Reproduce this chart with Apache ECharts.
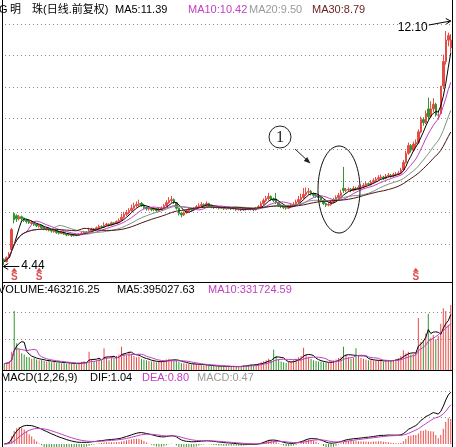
<!DOCTYPE html>
<html><head><meta charset="utf-8">
<script src="https://cdn.jsdelivr.net/npm/echarts@6/dist/echarts.min.js"></script>
<style>html,body{margin:0;padding:0;background:#fff}#c{width:456px;height:447px}</style>
</head><body><div id="c"></div>
<script>
// ---- data (daily bars, forward-adjusted) ----
const opens = [
4.62,4.55,4.68,4.95,6.12,6.05,5.95,6.02,5.98,5.92,
5.88,5.80,5.84,5.78,5.70,5.74,5.68,5.60,5.64,5.60,
5.53,5.56,5.52,5.47,5.52,5.46,5.42,5.44,5.40,5.43,
5.41,5.45,5.48,5.52,5.50,5.56,5.62,5.60,5.66,5.70,
5.68,5.74,5.78,5.75,5.82,5.80,5.86,5.90,6.00,6.10,
6.15,6.22,6.30,6.38,6.42,6.46,6.40,6.33,6.27,6.30,
6.25,6.28,6.22,6.26,6.30,6.38,6.48,6.55,6.58,6.48,
6.30,6.14,6.08,6.15,6.22,6.28,6.25,6.30,6.35,6.38,
6.42,6.40,6.45,6.38,6.35,6.32,6.35,6.30,6.33,6.28,
6.30,6.32,6.28,6.30,6.25,6.27,6.24,6.28,6.26,6.30,
6.27,6.25,6.30,6.35,6.45,6.55,6.62,6.68,6.60,6.60,
6.48,6.40,6.35,6.32,6.30,6.35,6.38,6.42,6.50,6.58,
6.65,6.75,6.82,6.85,6.78,6.72,6.70,6.65,6.55,6.45,
6.40,6.42,6.50,6.58,6.65,6.72,6.95,6.88,6.90,6.92,
6.88,6.95,6.93,6.98,7.00,7.05,7.10,7.08,7.15,7.20,
7.25,7.30,7.32,7.28,7.35,7.38,7.36,7.40,7.42,7.45,
7.55,7.80,8.10,8.35,8.20,8.40,8.45,8.80,9.20,9.10,
9.55,9.30,9.55,9.70,9.35,9.40,10.30,11.10,11.80,11.55];
const closes = [
4.55,4.68,4.80,5.60,5.92,5.95,6.02,5.96,5.90,5.86,
5.82,5.84,5.76,5.72,5.74,5.66,5.62,5.64,5.58,5.55,
5.56,5.50,5.48,5.52,5.45,5.42,5.44,5.40,5.43,5.41,
5.45,5.48,5.52,5.50,5.56,5.62,5.60,5.66,5.70,5.68,
5.74,5.78,5.75,5.82,5.80,5.86,5.90,6.00,6.10,6.15,
6.22,6.30,6.38,6.42,6.45,6.40,6.32,6.28,6.30,6.25,
6.28,6.22,6.26,6.30,6.38,6.48,6.55,6.58,6.50,6.30,
6.12,6.08,6.15,6.22,6.28,6.25,6.30,6.35,6.38,6.42,
6.40,6.45,6.38,6.35,6.32,6.35,6.30,6.33,6.28,6.30,
6.32,6.28,6.30,6.25,6.27,6.24,6.28,6.26,6.30,6.27,
6.25,6.30,6.35,6.45,6.55,6.62,6.68,6.60,6.55,6.48,
6.40,6.35,6.32,6.30,6.35,6.38,6.42,6.50,6.58,6.65,
6.75,6.82,6.85,6.78,6.72,6.70,6.65,6.55,6.45,6.40,
6.42,6.50,6.58,6.65,6.72,6.80,6.88,6.90,6.92,6.88,
6.95,6.93,6.98,7.00,7.05,7.10,7.08,7.15,7.20,7.25,
7.30,7.32,7.28,7.35,7.38,7.36,7.40,7.42,7.45,7.55,
7.80,8.10,8.35,8.20,8.40,8.45,8.80,9.20,9.10,9.40,
9.30,9.55,9.70,9.35,9.35,10.30,11.10,11.80,11.95,11.80];
const lows = [
4.44,4.52,4.64,4.92,5.80,5.85,5.90,5.90,5.85,5.80,
5.78,5.76,5.72,5.68,5.66,5.62,5.58,5.56,5.54,5.50,
5.50,5.46,5.44,5.45,5.42,5.38,5.39,5.36,5.37,5.38,
5.39,5.42,5.46,5.47,5.48,5.54,5.56,5.58,5.62,5.64,
5.66,5.70,5.71,5.73,5.76,5.78,5.82,5.88,5.96,6.04,
6.10,6.18,6.26,6.32,6.36,6.34,6.28,6.22,6.22,6.20,
6.20,6.17,6.18,6.22,6.26,6.34,6.44,6.48,6.44,6.25,
6.06,6.00,6.04,6.12,6.18,6.20,6.22,6.26,6.30,6.34,
6.35,6.36,6.34,6.30,6.28,6.29,6.26,6.27,6.24,6.25,
6.26,6.24,6.25,6.21,6.22,6.20,6.21,6.22,6.23,6.23,
6.20,6.22,6.27,6.32,6.40,6.50,6.56,6.55,6.50,6.44,
6.35,6.30,6.27,6.25,6.27,6.31,6.34,6.38,6.46,6.52,
6.60,6.70,6.74,6.72,6.66,6.64,6.58,6.50,6.40,6.34,
6.36,6.38,6.46,6.54,6.60,6.68,6.80,6.82,6.85,6.82,
6.85,6.88,6.90,6.92,6.95,7.00,7.02,7.04,7.10,7.16,
7.20,7.25,7.22,7.24,7.30,7.30,7.32,7.35,7.38,7.42,
7.52,7.76,8.05,8.12,8.15,8.30,8.40,8.75,9.00,9.05,
9.20,9.25,9.45,9.30,9.20,9.38,10.20,11.00,11.60,11.40];
const highs = [
4.66,4.72,4.86,5.65,6.16,6.10,6.08,6.06,6.00,5.95,
5.92,5.90,5.86,5.80,5.78,5.76,5.70,5.68,5.66,5.62,
5.60,5.58,5.54,5.55,5.54,5.48,5.47,5.46,5.46,5.45,
5.48,5.52,5.56,5.55,5.66,5.66,5.65,5.70,5.76,5.74,
5.84,5.82,5.80,5.86,5.85,5.90,5.96,6.12,6.18,6.24,
6.30,6.42,6.48,6.52,6.58,6.50,6.44,6.36,6.35,6.33,
6.34,6.30,6.32,6.36,6.44,6.56,6.66,6.70,6.62,6.50,
6.32,6.18,6.20,6.26,6.32,6.31,6.34,6.40,6.46,6.50,
6.46,6.52,6.48,6.41,6.38,6.39,6.37,6.37,6.35,6.34,
6.36,6.34,6.34,6.32,6.31,6.30,6.32,6.31,6.34,6.32,
6.30,6.34,6.40,6.52,6.62,6.70,6.80,6.72,6.64,6.80,
6.52,6.44,6.38,6.36,6.40,6.44,6.50,6.58,6.70,6.78,
6.96,6.98,6.96,6.90,6.82,6.78,6.74,6.68,6.58,6.48,
6.48,6.56,6.64,6.72,6.80,6.90,7.65,6.96,6.98,6.96,
7.02,7.00,7.05,7.08,7.12,7.18,7.14,7.22,7.28,7.32,
7.38,7.40,7.36,7.42,7.45,7.42,7.46,7.48,7.52,7.62,
7.88,8.18,8.45,8.40,8.48,8.55,8.88,9.30,9.28,9.50,
9.92,9.80,9.90,9.75,9.50,10.30,11.33,12.10,12.05,12.00];
const volumes = [
45000,52000,60000,130000,420000,190000,150000,120000,110000,95000,
90000,80000,85000,75000,70000,72000,65000,60000,68000,55000,
58000,52000,60000,48000,55000,45000,50000,42000,48000,40000,
52000,58000,62000,50000,130000,75000,60000,70000,85000,65000,
155000,90000,70000,95000,80000,100000,110000,165000,120000,105000,
130000,115000,100000,90000,95000,80000,75000,70000,65000,60000,
62000,55000,58000,60000,68000,75000,80000,72000,65000,70000,
60000,50000,48000,45000,42000,40000,44000,42000,38000,36000,
34000,35000,30000,28000,30000,26000,28000,25000,27000,24000,
26000,23000,25000,22000,24000,30000,35000,32000,38000,40000,
36000,42000,48000,55000,62000,70000,80000,65000,145000,100000,
75000,60000,55000,50000,58000,62000,70000,80000,90000,100000,
158000,110000,95000,80000,70000,65000,60000,58000,55000,52000,
50000,60000,68000,75000,85000,95000,165000,110000,90000,80000,
85000,155000,100000,85000,80000,75000,70000,72000,68000,65000,
70000,66000,60000,64000,70000,66000,72000,78000,85000,100000,
140000,120000,130000,110000,115000,125000,370000,200000,210000,260000,
400000,230000,250000,220000,242000,330000,440000,420000,321922,463216];
const buySignals = [4, 14, 165];           // bar indices carrying the red "S" marks
const priceTitle = ['MA5:11.39','MA10:10.42','MA20:9.50','MA30:8.79'];
const volTitle = ['VOLUME:463216.25','MA5:395027.63','MA10:331724.59'];
const macdTitle = ['MACD(12,26,9)','DIF:1.04','DEA:0.80','MACD:0.47'];
const highLabel = {index: 177, price: 12.10, text: '12.10'};
const lowLabel = {index: 0, price: 4.44, text: '4.44'};

// ---- derived ----
const categories = closes.map((_, i) => String(i + 1));
const candles = closes.map((c, i) => [opens[i], c, lows[i], highs[i]]);
function movingAverage(arr, n) {
  return arr.map((_, i) => { const s = Math.max(0, i - n + 1); let t = 0; for (let k = s; k <= i; k++) t += arr[k]; return t / (i - s + 1); });
}
function ema(arr, n) { const a = 2 / (n + 1); const out = []; arr.forEach((v, i) => out.push(i ? a * v + (1 - a) * out[i - 1] : v)); return out; }
const e12 = ema(closes, 12), e26 = ema(closes, 26);
const dif = e12.map((v, i) => v - e26[i]);
const dea = ema(dif, 9);
const hist = dif.map((v, i) => 2 * (v - dea[i]));

const UP = '#e64a44', DOWN = '#2f962f', MAG = '#c23ec2', GRAY = '#9a9a9a', DARK = '#4a1212';
const FONT = '"Liberation Sans", Arial, "Noto Sans CJK SC", sans-serif';

const chart = echarts.init(document.getElementById('c'), null, {renderer: 'canvas'});
const hidden = {show: false};
const catAxis = (g) => ({type: 'category', gridIndex: g, data: categories, boundaryGap: true, axisLine: hidden, axisTick: hidden, axisLabel: hidden, splitLine: hidden});
const gridAxis = (g, max) => ({type: 'value', gridIndex: g, min: 0, max: max, interval: 1, axisLine: hidden, axisTick: hidden, axisLabel: hidden,
  splitLine: {show: true, lineStyle: {color: '#8a8a8a', type: [1, 3], width: 1}}});
const line = (name, data, color, xi, yi) => ({name, type: 'line', data, xAxisIndex: xi, yAxisIndex: yi, showSymbol: false, symbol: 'none', z: 4,
  lineStyle: {color, width: 1}, itemStyle: {color}, silent: true});

chart.setOption({
  animation: false,
  backgroundColor: '#fff',
  grid: [
    {left: 3, width: 449, top: 24, height: 258},
    {left: 3, width: 449, top: 283, height: 87},
    {left: 3, width: 449, top: 371, height: 76},
    {left: 5, width: 447, top: 24, height: 220},
    {left: 5, width: 447, top: 312, height: 27},
    {left: 5, width: 447, top: 391, height: 26}
  ],
  xAxis: [catAxis(0), catAxis(1), catAxis(2),
    {type: 'value', gridIndex: 3, show: false, min: 0, max: 1},
    {type: 'value', gridIndex: 4, show: false, min: 0, max: 1},
    {type: 'value', gridIndex: 5, show: false, min: 0, max: 1}],
  yAxis: [
    {type: 'value', gridIndex: 0, min: 3.883, max: 12.33, show: false},
    {type: 'value', gridIndex: 1, min: 0, max: 620000, show: false},
    {type: 'value', gridIndex: 2, min: -0.06, max: 1.46, show: false},
    gridAxis(3, 7), gridAxis(4, 1), gridAxis(5, 1)
  ],
  series: [
    {type: 'candlestick', xAxisIndex: 0, yAxisIndex: 0, data: candles, barWidth: 2, z: 3,
      itemStyle: {color: UP, color0: DOWN, borderColor: UP, borderColor0: DOWN, borderWidth: 1}},
    line('MA5', movingAverage(closes, 5), '#000000', 0, 0),
    line('MA10', movingAverage(closes, 10), MAG, 0, 0),
    line('MA20', movingAverage(closes, 20), '#7f927f', 0, 0),
    line('MA30', movingAverage(closes, 30), DARK, 0, 0),
    {type: 'scatter', xAxisIndex: 0, yAxisIndex: 0, symbol: 'triangle', symbolSize: [6, 4], z: 5,
      data: buySignals.map(i => [i, 4.28]), itemStyle: {color: '#d42020'},
      label: {show: true, position: 'bottom', distance: 0, formatter: 'S', color: '#d42020', fontWeight: 'bold', fontSize: 10, fontFamily: FONT}},
    {type: 'bar', xAxisIndex: 1, yAxisIndex: 1, barWidth: 1, z: 3,
      data: volumes.map((v, i) => ({value: v, itemStyle: {color: closes[i] >= opens[i] ? UP : DOWN}}))},
    line('VMA5', movingAverage(volumes, 5), '#000000', 1, 1),
    line('VMA10', movingAverage(volumes, 10), MAG, 1, 1),
    {type: 'bar', xAxisIndex: 2, yAxisIndex: 2, barWidth: 1, z: 3,
      data: hist.map(v => ({value: v, itemStyle: {color: v >= 0 ? UP : DOWN}}))},
    line('DIF', dif, '#000000', 2, 2),
    line('DEA', dea, MAG, 2, 2)
  ]
});

// ---- annotations, titles, frame ----
const T = (x, y, text, fill, size, align) => ({type: 'text', silent: true, z: 50, style: {x, y, text, fill: fill || '#000',
  font: (size || 11) + 'px ' + FONT, textAlign: align || 'left', align: align || 'left', textVerticalAlign: 'middle', verticalAlign: 'middle'}});
const L = (x1, y1, x2, y2, color) => ({type: 'line', silent: true, z: 40, shape: {x1, y1, x2, y2}, style: {stroke: color || '#000', lineWidth: 1}});
const hp = chart.convertToPixel({xAxisIndex: 0, yAxisIndex: 0}, [highLabel.index, highLabel.price]);
const lp = chart.convertToPixel({xAxisIndex: 0, yAxisIndex: 0}, [lowLabel.index, lowLabel.price]);
const g = [
  L(2.5, 0, 2.5, 447), L(452.5, 0, 452.5, 447), L(2, 282.5, 453, 282.5), L(2, 370.5, 453, 370.5),
  T(-1, 10, 'G'), T(10, 10, '明'), T(32, 10, '珠'), T(43, 10, '(日线.前复权)'),
  T(115, 10, priceTitle[0]), T(188, 10, priceTitle[1], MAG), T(249, 10, priceTitle[2], GRAY), T(312, 10, priceTitle[3], '#6b1c1c'),
  T(-2, 289.5, volTitle[0]), T(117, 289.5, volTitle[1]), T(208, 289.5, volTitle[2], MAG),
  T(1, 377.5, macdTitle[0]), T(90, 377.5, macdTitle[1]), T(142, 377.5, macdTitle[2], MAG), T(197, 377.5, macdTitle[3], GRAY),
  // high / low markers
  T(hp[0] - 18, hp[1] - 3, highLabel.text, '#000', 12, 'right'),
  L(hp[0] - 17, hp[1] - 6, hp[0] + 5, hp[1] - 10),
  {type: 'polyline', silent: true, z: 40, shape: {points: [[hp[0], hp[1] - 12.5], [hp[0] + 5, hp[1] - 10], [hp[0] + 0.5, hp[1] - 7]]}, style: {fill: 'none', stroke: '#000', lineWidth: 1}},
  T(lp[0] + 17, lp[1] + 1, lowLabel.text, '#000', 12),
  L(lp[0] - 1, lp[1] + 1.5, lp[0] + 15, lp[1] + 1.5),
  {type: 'polyline', silent: true, z: 40, shape: {points: [[lp[0] + 4, lp[1] - 1.5], [lp[0] - 1, lp[1] + 1.5], [lp[0] + 4, lp[1] + 4.5]]}, style: {fill: 'none', stroke: '#000', lineWidth: 1}},
  // circled note
  {type: 'ellipse', silent: true, z: 40, shape: {cx: 339, cy: 189.5, rx: 21, ry: 43.5}, style: {fill: 'none', stroke: '#111', lineWidth: 1}},
  {type: 'circle', silent: true, z: 40, shape: {cx: 280, cy: 137, r: 11}, style: {fill: 'none', stroke: '#222', lineWidth: 1}},
  {type: 'text', silent: true, z: 41, style: {x: 280, y: 137.5, text: '1', fill: '#222', font: '16px "Liberation Serif", serif', textAlign: 'center', align: 'center', textVerticalAlign: 'middle', verticalAlign: 'middle'}},
  L(295, 149, 309, 162, '#222'),
  {type: 'polygon', silent: true, z: 40, shape: {points: [[310.5, 163.5], [303.8, 160.9], [307.2, 157.1]]}, style: {fill: '#222'}}
];
chart.setOption({graphic: g});
</script></body></html>
